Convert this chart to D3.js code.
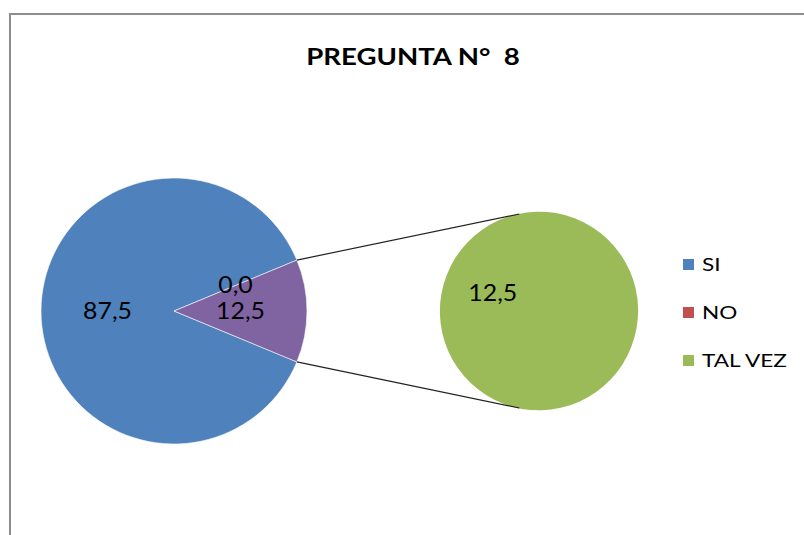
<!DOCTYPE html>
<html>
<head>
<meta charset="utf-8">
<script src="https://cdnjs.cloudflare.com/ajax/libs/d3/7.8.5/d3.min.js"></script>
<style>
  body { margin: 0; background: #fff; }
  text { font-family: Lato, "Open Sans", sans-serif; }
</style>
</head>
<body>
<div id="chart"></div>
<script>
(function(){
  const width = 804;
  const height = 535;

  // data
  const categories = ["SI", "NO", "TAL VEZ"];
  const values = [87.5, 0.0, 12.5];
  const colors = ["#4F81BD", "#C0504D", "#9BBB59"];
  const otherColor = "#8064A2";
  const title = "PREGUNTA N°  8";

  // first pie: SI plus "other" (NO + TAL VEZ)
  const otherTotal = values[1] + values[2];
  const mainData = [
    { name: "SI", value: values[0], color: colors[0] },
    { name: "Otro", value: otherTotal, color: otherColor }
  ];
  const secondData = [
    { name: "NO", value: values[1], color: colors[1] },
    { name: "TAL VEZ", value: values[2], color: colors[2] }
  ];

  const fmt = v => d3.format(".1f")(v).replace(".", ",");
  const deg = d => d * Math.PI / 180;
  const sx = 1.08; // reference text looks a bit stretched horizontally

  const svg = d3.select("#chart")
    .append("svg")
    .attr("width", width)
    .attr("height", height);

  // chart frame (only top and left visible)
  svg.append("rect")
    .attr("x", 10).attr("y", 14)
    .attr("width", 820).attr("height", 560)
    .attr("fill", "#fff")
    .attr("stroke", "#8c8c8c")
    .attr("stroke-width", 2);

  svg.append("text")
    .attr("transform", "translate(413,65) scale(1.2,1)")
    .attr("text-anchor", "middle")
    .style("font-weight", "bold")
    .style("font-size", "23px")
    .style("white-space", "pre")
    .text(title);

  // main pie
  const c1 = { x: 174, y: 311 }, r1 = 133;
  const otherSpan = 2 * Math.PI * otherTotal / d3.sum(values);
  const start1 = Math.PI / 2 + otherSpan / 2;
  const pie1 = d3.pie().sort(null).value(d => d.value)
    .startAngle(start1).endAngle(start1 + 2 * Math.PI);
  const arc1 = d3.arc().innerRadius(0).outerRadius(r1);
  const label1 = d3.arc().innerRadius(r1 * 0.5).outerRadius(r1 * 0.5);

  const g1 = svg.append("g").attr("transform", `translate(${c1.x},${c1.y})`);
  const arcs1 = pie1(mainData);
  g1.selectAll("path").data(arcs1).join("path")
    .attr("d", arc1)
    .attr("fill", d => d.data.color)
    .attr("stroke", "#fff")
    .attr("stroke-width", 0.6);

  // second pie
  const c2 = { x: 539, y: 311 }, r2 = 99;
  const start2 = deg(111);
  const pie2 = d3.pie().sort(null).value(d => d.value)
    .startAngle(start2).endAngle(start2 + 2 * Math.PI);
  const arc2 = d3.arc().innerRadius(0).outerRadius(r2);
  const label2 = d3.arc().innerRadius(r2 * 0.5).outerRadius(r2 * 0.5);
  const g2 = svg.append("g").attr("transform", `translate(${c2.x},${c2.y})`);
  const arcs2 = pie2(secondData);
  g2.selectAll("path").data(arcs2.filter(d => d.value > 0)).join("path")
    .attr("d", arc2)
    .attr("fill", d => d.data.color);

  // connector lines
  const other = arcs1[1];
  const tip = 0.2;
  const links = [
    [d3.pointRadial(other.startAngle, r1), d3.pointRadial(-tip, r2)],
    [d3.pointRadial(other.endAngle, r1), d3.pointRadial(Math.PI + tip, r2)]
  ];
  svg.selectAll("line.link").data(links).join("line")
    .attr("class", "link")
    .attr("x1", d => c1.x + d[0][0]).attr("y1", d => c1.y + d[0][1])
    .attr("x2", d => c2.x + d[1][0]).attr("y2", d => c2.y + d[1][1])
    .attr("stroke", "#222").attr("stroke-width", 1.2);

  // labels
  const lblSize = 23;
  g1.selectAll("text").data(arcs1).join("text")
    .attr("transform", d => `translate(${label1.centroid(d)}) scale(${sx},1)`)
    .attr("text-anchor", "middle")
    .attr("dy", "0.35em")
    .style("font-size", lblSize + "px")
    .text(d => fmt(d.value));

  // NO label (0,0) stacked just above the "other" label
  const oc = label1.centroid(other);
  g1.append("text")
    .attr("transform", `translate(${oc[0] - 5},${oc[1] - 26}) scale(${sx},1)`)
    .attr("text-anchor", "middle")
    .attr("dy", "0.35em")
    .style("font-size", lblSize + "px")
    .text(fmt(values[1]));

  g2.selectAll("text").data(arcs2.filter(d => d.value > 0)).join("text")
    .attr("transform", d => `translate(${label2.centroid(d)}) scale(${sx},1)`)
    .attr("text-anchor", "middle")
    .attr("dy", "0.35em")
    .style("font-size", lblSize + "px")
    .text(d => fmt(d.value));

  // legend
  const legend = svg.append("g").attr("transform", "translate(683,259)");
  const item = legend.selectAll("g").data(categories).join("g")
    .attr("transform", (d, i) => `translate(0,${i * 48})`);
  item.append("rect")
    .attr("width", 11).attr("height", 11)
    .attr("fill", (d, i) => colors[i]);
  item.append("text")
    .attr("transform", "translate(19,11.5) scale(1.33,1)")
    .style("font-size", "17px")
    .text(d => d);
})();
</script>
</body>
</html>
